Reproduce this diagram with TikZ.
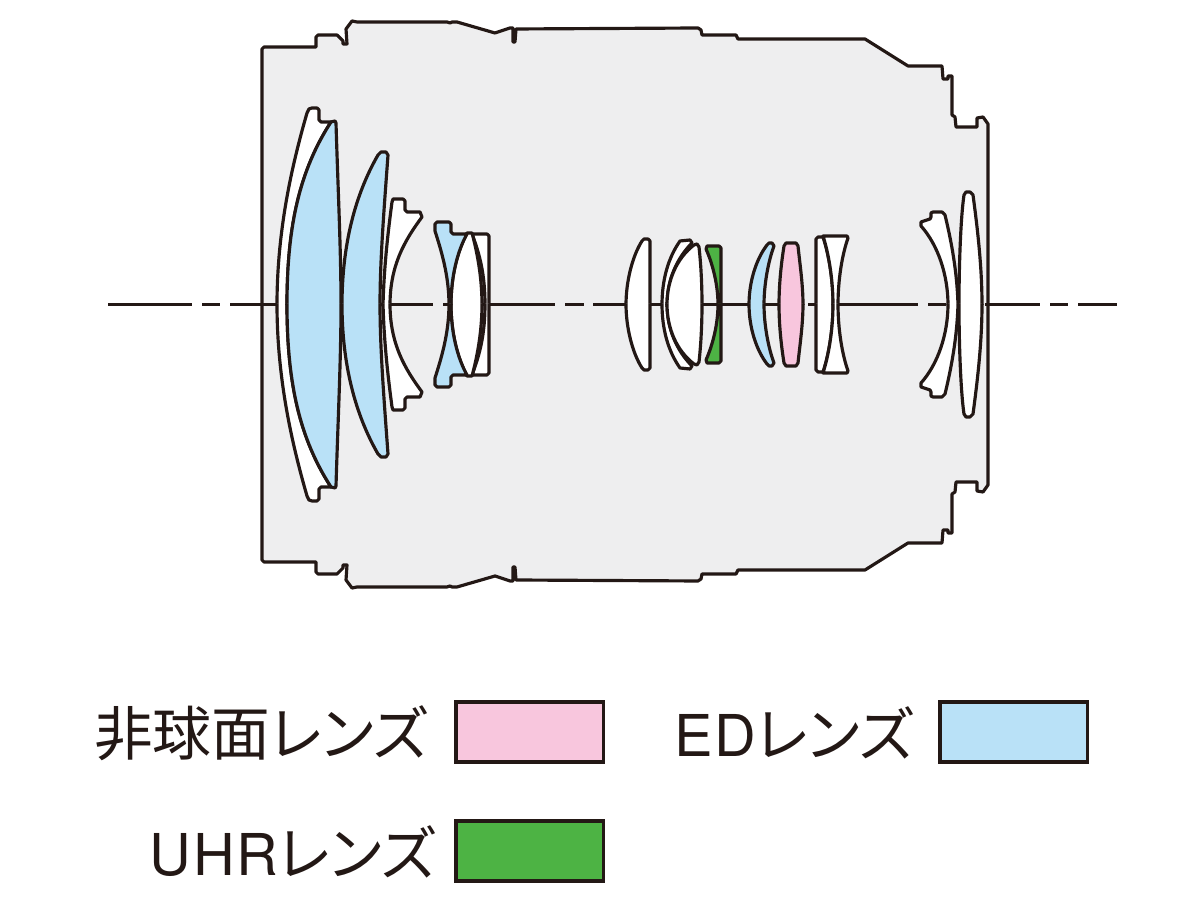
\documentclass[tikz,border=0pt]{standalone}
\usepackage{fontspec}
\newfontfamily\cjk[RawFeature=+palt]{Noto Sans CJK JP}
\newfontfamily\latn[LetterSpace=3]{TeX Gyre Heros}
\definecolor{linecol}{HTML}{231815}
\definecolor{bodycol}{HTML}{EEEEEF}
\definecolor{edcol}{HTML}{B9E1F7}
\definecolor{ascol}{HTML}{F8C6DD}
\definecolor{uhrcol}{HTML}{4DB344}
\tikzset{
  glass/.style={draw=linecol,line width=0.9pt,line join=round},
  axisline/.style={draw=linecol,line width=0.8pt},
  keybox/.style={draw=linecol,line width=0.9pt,minimum width=1.47cm,minimum height=0.6cm,inner sep=0pt,outer sep=0pt},
  keytext/.style={text=linecol,font=\cjk\fontsize{16.7}{18}\selectfont,anchor=east,inner sep=0pt}
}
% upper half as given, lower half reflected in the axis
\newcommand{\bothhalves}[1]{#1\begin{scope}[shift={(0,609)},yscale=-1]#1\end{scope}}
\begin{document}
\begin{tikzpicture}[x=0.01cm,y=-0.01cm]
   \useasboundingbox (0,0) rectangle (1200,901);

   % barrel
   \bothhalves{\filldraw[glass,fill=bodycol] (262,305) -- (262,49) -- (264,47) -- (316,47) -- (316,37) -- (318,35) -- (337,35)
      -- (343,41) -- (343,44) -- (347,44) -- (346,29) -- (352,21) -- (357,22) -- (447,22) -- (450,23) -- (452,22) -- (457,22)
      -- (495,33) -- (510,28) -- (513,28) -- (513,42) -- (515,42) -- (516,29) -- (698,28) -- (701,30) -- (702,35) -- (736,35)
      -- (738,39) -- (865,39) -- (908,66) -- (942,66) -- (943,79) -- (948,79) -- (948,76) -- (952,76) -- (952,115) -- (955,117)
      -- (956,127) -- (977,127) -- (977,118) -- (983,117) -- (988,124) -- (988,305);}

   % axis
   \draw[axisline] (108,304.5) -- (192,304.5);
   \draw[axisline] (202,304.5) -- (220,304.5);
   \draw[axisline] (230,304.5) -- (433,304.5);
   \draw[axisline] (443,304.5) -- (555,304.5);
   \draw[axisline] (565,304.5) -- (584,304.5);
   \draw[axisline] (593,304.5) -- (803,304.5);
   \draw[axisline] (808,304.5) -- (918,304.5);
   \draw[axisline] (928,304.5) -- (946,304.5);
   \draw[axisline] (985,304.5) -- (1040,304.5);
   \draw[axisline] (1050,304.5) -- (1068,304.5);
   \draw[axisline] (1078,304.5) -- (1117,304.5);

   % front group
   \bothhalves{\filldraw[glass,fill=white] (277,305) .. controls (277,230) and (292,165) .. (307,113) -- (309,109) -- (312,108)
      -- (317,108) -- (319,110) -- (319,120) -- (321,122) -- (331,122) .. controls (300,170) and (287,225) .. (287,305);}
   \bothhalves{\filldraw[glass,fill=edcol] (287,305) .. controls (287,225) and (300,170) .. (331,122) -- (335,121) -- (336,123)
      .. controls (338,190) and (341,250) .. (341,305);}
   \bothhalves{\filldraw[glass,fill=edcol] (342,305) .. controls (342,245) and (355,195) .. (378,155) -- (381,152) -- (386,152)
      -- (388,155) .. controls (384,210) and (380,260) .. (380,305);}
   \bothhalves{\filldraw[glass,fill=white] (383,305) .. controls (384,270) and (387,240) .. (392,202) -- (393,199) -- (403,199)
      -- (405,201) -- (405,210) -- (407,212) -- (420,212) -- (422,217) .. controls (405,240) and (390,265) .. (390,305);}
   \bothhalves{\filldraw[glass,fill=white] (485,305) .. controls (485,275) and (480,255) .. (472,234) -- (487,234) -- (489,236) -- (489,305);}
   \bothhalves{\filldraw[glass,fill=white] (451,305) .. controls (451,275) and (458,250) .. (467,233) -- (472,233)
      .. controls (478,255) and (482,280) .. (482,305);}
   \bothhalves{\filldraw[glass,fill=edcol] (449,305) .. controls (449,275) and (441,250) .. (435,231) -- (435,224) -- (437,222)
      -- (449,222) -- (451,224) -- (451,232) -- (453,234) -- (467,234) .. controls (458,250) and (451,275) .. (451,305);}

   % middle group
   \bothhalves{\filldraw[glass,fill=white] (626,305) .. controls (626,280) and (633,255) .. (642,241) -- (644,239) -- (648,239)
      -- (650,241) -- (650,305);}
   \bothhalves{\filldraw[glass,fill=white] (662,305) .. controls (662,280) and (668,258) .. (680,241) -- (690,240) -- (692,243)
      .. controls (677,258) and (667,280) .. (667,305);}
   \bothhalves{\filldraw[glass,fill=white] (667,305) .. controls (667,280) and (677,258) .. (694,245) -- (697,244) -- (699,247)
      .. controls (701,265) and (702,285) .. (702,305);}
   \bothhalves{\filldraw[glass,fill=uhrcol] (718,305) .. controls (718,285) and (713,265) .. (706,249) -- (707,246) -- (719,246)
      -- (721,248) -- (721,305);}
   \bothhalves{\filldraw[glass,fill=edcol] (749,305) .. controls (749,280) and (757,258) .. (767,245) -- (769,243) -- (772,243)
      -- (774,246) .. controls (768,262) and (764,285) .. (764,305);}
   \bothhalves{\filldraw[glass,fill=ascol] (779,305) .. controls (779,285) and (781,265) .. (784,246) -- (786,243) -- (796,243)
      -- (798,246) .. controls (800,265) and (803,285) .. (803,305);}
   \bothhalves{\filldraw[glass,fill=white] (816,305) -- (816,239) -- (818,237) -- (823,237) .. controls (829,255) and (833,280) .. (833,305);}
   \bothhalves{\filldraw[glass,fill=white] (833,305) .. controls (833,280) and (829,255) .. (823,236) -- (847,236) -- (848,238)
      .. controls (842,255) and (838,280) .. (838,305);}

   % rear group
   \bothhalves{\filldraw[glass,fill=white] (948,305) .. controls (948,275) and (938,245) .. (921,226) -- (921,222) -- (930,219)
      -- (931,217) -- (931,213) -- (933,212) -- (942,212) -- (945,215) .. controls (951,240) and (957,270) .. (958,305);}
   \bothhalves{\filldraw[glass,fill=white] (959,305) .. controls (959,260) and (961,215) .. (964,195) -- (966,192) -- (970,192)
      -- (973,195) .. controls (977,225) and (982,265) .. (982,305);}

   % key
   \node[keybox,fill=ascol,anchor=north west] (asbox) at (456,702) {};
   \node[keybox,fill=edcol,anchor=north west] (edbox) at (940,702) {};
   \node[keybox,fill=uhrcol,anchor=north west] (uhrbox) at (456,821) {};
   \node[keytext] (astext) at (428,733) {非球面レンズ};
   \node[keytext] (edtext) at (914,733) {{\latn\fontsize{16.4}{18}\selectfont ED}レンズ};
   \node[keytext] (uhrtext) at (436,852) {{\latn\fontsize{16.4}{18}\selectfont UHR}レンズ};
\end{tikzpicture}
\end{document}
